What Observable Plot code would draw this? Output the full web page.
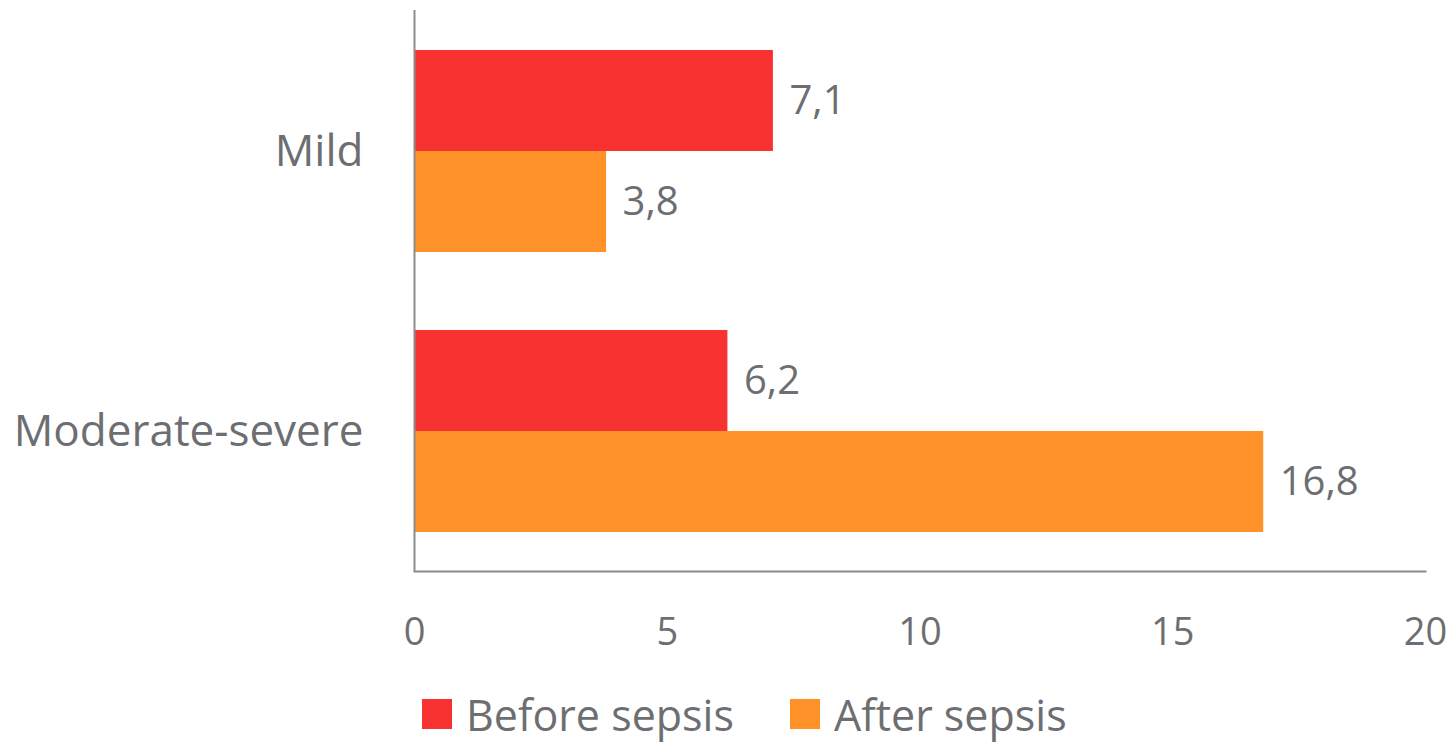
<!DOCTYPE html>
<html>
<head>
<meta charset="utf-8">
<script src="https://cdn.jsdelivr.net/npm/d3@7"></script>
<script src="https://cdn.jsdelivr.net/npm/@observablehq/plot@0.6"></script>
<style>
  html, body { margin: 0; padding: 0; background: #fff; }
  #chart { width: 1450px; font-family: "Open Sans", "Noto Sans", sans-serif; }
  #chart svg text { fill: #6d6e71; }
  #legend { position: relative; width: 1450px; height: 62px; font-family: "Open Sans", "Noto Sans", sans-serif; font-size: 43px; color: #6d6e71; }
  .item { position: absolute; top: 3px; height: 62px; display: flex; align-items: center; }
  .sw { width: 30px; height: 30px; margin-right: 14px; }
</style>
</head>
<body>
<div id="chart"></div>
<div id="legend"></div>
<script>
const categories = ["Mild", "Moderate-severe"];
const series = ["Before sepsis", "After sepsis"];
const beforeValues = [7.1, 6.2];
const afterValues = [3.8, 16.8];
const xTicks = [0, 5, 10, 15, 20];
const colors = ["#f83230", "#fe9229"];

const before = categories.map((c, i) => ({category: c, series: series[0], value: beforeValues[i]}));
const after = categories.map((c, i) => ({category: c, series: series[1], value: afterValues[i]}));
const fmt = d => d.value.toFixed(1).replace(".", ",");

const W = 1450, H = 680;
const bandHalf = 101;

const chart = Plot.plot({
  width: W,
  height: H,
  marginTop: 10,
  marginBottom: 109,
  marginLeft: 414,
  marginRight: 25,
  style: {fontFamily: '"Open Sans", "Noto Sans", sans-serif', background: "#fff", color: "#6d6e71"},
  x: {domain: [0, 20]},
  y: {domain: categories, paddingInner: 0.28, paddingOuter: 0.14},
  marks: [
    Plot.barX(before, {x: "value", y: "category", fill: colors[0], insetBottom: bandHalf}),
    Plot.barX(after, {x: "value", y: "category", fill: colors[1], insetTop: bandHalf}),
    Plot.text(before, {x: "value", y: "category", text: fmt, dy: -bandHalf / 2, dx: 16, textAnchor: "start", fontSize: 40, fill: "#6d6e71"}),
    Plot.text(after, {x: "value", y: "category", text: fmt, dy: bandHalf / 2, dx: 16, textAnchor: "start", fontSize: 40, fill: "#6d6e71"}),
    Plot.axisX({ticks: xTicks, tickSize: 0, tickPadding: 47, tickFormat: d => String(d), label: null, fontSize: 38, fill: "#6d6e71"}),
    Plot.axisY({tickSize: 0, tickPadding: 51, label: null, fontSize: 44, fill: "#6d6e71"}),
    Plot.ruleX([0], {stroke: "#8c8c8c", strokeWidth: 2}),
    Plot.frame({anchor: "bottom", stroke: "#8c8c8c", strokeWidth: 2})
  ]
});
document.getElementById("chart").appendChild(chart);

const legend = document.getElementById("legend");
const legendX = [422, 790];
series.forEach((s, i) => {
  const item = document.createElement("div");
  item.className = "item";
  item.style.left = legendX[i] + "px";
  const sw = document.createElement("div");
  sw.className = "sw";
  sw.style.background = colors[i];
  const label = document.createElement("span");
  label.textContent = s;
  item.appendChild(sw);
  item.appendChild(label);
  legend.appendChild(item);
});
</script>
</body>
</html>
